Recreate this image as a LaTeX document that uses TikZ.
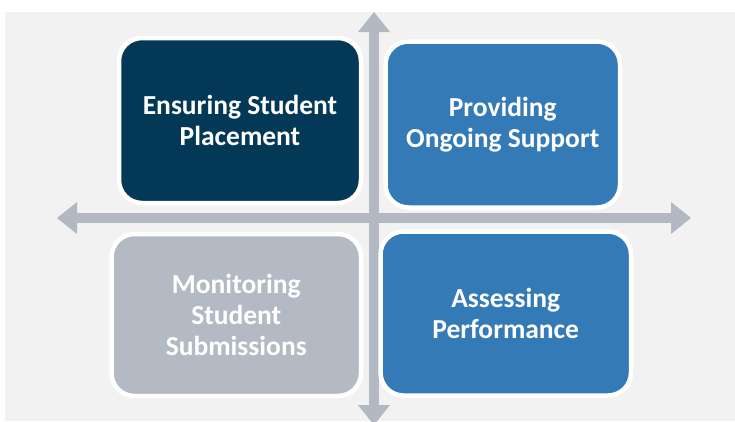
\documentclass[tikz,border=0pt]{standalone}
\usepackage{fontspec}
\setmainfont{Carlito}
\usetikzlibrary{arrows.meta}
\definecolor{navy}{RGB}{3,57,86}
\definecolor{midblue}{RGB}{51,122,182}
\definecolor{boxgray}{RGB}{180,186,196}
\definecolor{axisgray}{RGB}{179,185,195}
\definecolor{bggray}{RGB}{242,242,242}
\tikzset{
  quadbox/.style={rectangle, rounded corners=23pt, draw=white, line width=4.5pt,
    align=center, text=white, inner sep=0pt,
    font=\bfseries\fontsize{27.5}{31}\selectfont},
  axis/.style={draw=axisgray, line width=10pt,
    {Triangle[length=20pt,width=32pt,line width=0pt]}-{Triangle[length=20pt,width=32pt,line width=0pt]}}
}
\begin{document}
\begin{tikzpicture}[x=1pt,y=-1pt]
\useasboundingbox (0,0) rectangle (735,421);
\clip (0,0) rectangle (735,421);
\fill[white] (0,0) rectangle (735,421);
\fill[bggray] (5,12) rectangle (735,421);
% axes
\coordinate (L) at (57,218);
\coordinate (R) at (691,218);
\coordinate (T) at (374,12);
\coordinate (B) at (374,425);
\draw[axis] (L) -- (R);
\draw[axis] (T) -- (B);
% boxes
\node[quadbox, fill=navy, minimum width=242pt, minimum height=165pt] (ensure) at (240,120.5) {Ensuring Student\\Placement};
\node[quadbox, fill=midblue, minimum width=234.5pt, minimum height=166pt] (support) at (502.75,124.5) {Providing\\Ongoing Support};
\node[quadbox, fill=boxgray, minimum width=249.5pt, minimum height=162pt] (monitor) at (236.25,315) {Monitoring\\Student\\Submissions};
\node[quadbox, fill=midblue, minimum width=250.5pt, minimum height=164pt] (assess) at (505.75,313.5) {Assessing\\Performance};
\end{tikzpicture}
\end{document}
